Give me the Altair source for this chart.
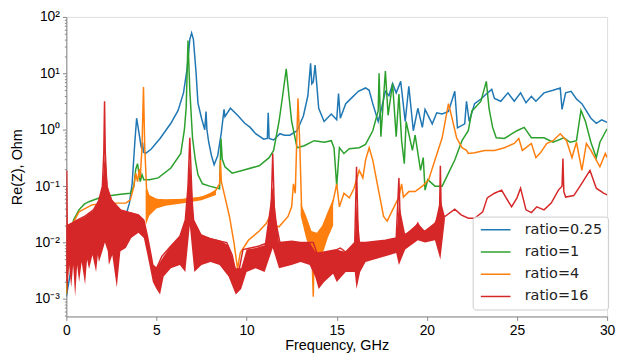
import altair as alt
import pandas as pd

# ---------------- data ----------------
SERIES = ["ratio=0.25", "ratio=1", "ratio=4", "ratio=16"]
COLORS = ["#1f77b4", "#2ca02c", "#ff7f0e", "#d62728"]

blue_f = [0.0, 0.3, 0.8, 1.5, 2.2, 2.8, 3.3, 3.5, 3.65, 3.8, 3.9, 4.05, 4.15, 4.2, 4.23, 4.28, 4.4, 4.7, 5.2, 5.8, 6.2, 6.5, 6.7, 6.85, 6.95, 7.05, 7.2, 7.3, 7.5, 7.68, 7.75, 7.8, 7.9, 8.05, 8.2, 8.4, 8.6, 8.75, 8.8, 9.1, 9.5, 9.9, 10.2, 10.5, 10.95, 11.15, 11.2, 11.25, 11.5, 11.85, 12.1, 12.4, 12.8, 13.15, 13.4, 13.55, 13.62, 13.7, 13.8, 13.9, 14.0, 14.3, 14.7, 15.0, 15.1, 15.2, 15.5, 15.8, 16.2, 16.6, 16.8, 17.0, 17.3, 17.5, 17.7, 17.9, 18.1, 18.3, 18.55, 18.8, 19.0, 19.25, 19.5, 19.75, 19.9, 20.3, 20.55, 20.85, 21.2, 21.55, 21.7, 22.1, 22.2, 22.35, 22.65, 23.0, 23.3, 23.6, 23.75, 24.1, 24.5, 24.85, 25.2, 25.5, 25.8, 26.05, 26.5, 27.0, 27.4, 27.5, 27.7, 28.0, 28.3, 28.6, 28.85, 29.1, 29.4, 29.7, 30.0]
blue_v = [0.0011, 0.004, 0.008, 0.012, 0.016, 0.02, 0.03, 0.05, 0.11, 0.6, 1.6, 0.8, 0.5, 0.45, 0.6, 0.4, 0.38, 0.45, 0.7, 1.3, 2.2, 4.5, 12, 40, 52, 40, 10, 3.0, 1.6, 1.0, 2.1, 1.0, 0.6, 0.35, 0.24, 0.35, 0.9, 2.3, 1.7, 2.4, 1.8, 1.3, 1.1, 0.85, 0.68, 0.7, 2.0, 0.7, 0.66, 0.85, 0.8, 0.8, 0.96, 1.75, 4.0, 15, 6.5, 7, 14, 6, 2.4, 1.4, 1.9, 1.5, 4.4, 1.6, 2.9, 3.6, 4.8, 5.5, 5.0, 2.9, 1.4, 2.5, 4.8, 4.0, 6.6, 4.5, 7.2, 1.4, 5.9, 0.96, 2.4, 1.1, 2.3, 1.27, 2.0, 1.9, 2.1, 4.8, 1.08, 1.27, 3.2, 1.4, 2.9, 3.5, 4.3, 5.2, 3.6, 3.2, 4.5, 3.2, 4.5, 3.0, 3.9, 3.2, 4.5, 5.0, 5.5, 2.3, 4.5, 4.8, 3.5, 2.9, 2.15, 1.6, 1.3, 1.5, 1.35]

green_f = [0.0, 0.15, 0.4, 0.7, 1.0, 1.25, 2.0, 3.0, 3.55, 3.75, 3.85, 3.95, 4.05, 4.1, 4.2, 4.3, 4.6, 5.1, 5.8, 6.35, 6.55, 6.65, 6.75, 6.85, 7.0, 7.15, 7.3, 7.55, 7.95, 8.5, 8.58, 8.65, 8.8, 9.2, 9.75, 10.7, 11.25, 11.5, 11.8, 12.0, 12.2, 12.35, 12.5, 12.8, 13.2, 13.75, 14.3, 14.7, 14.85, 15.0, 15.15, 15.4, 15.7, 16.25, 16.6, 17.0, 17.3, 17.35, 17.45, 17.7, 17.85, 18.1, 18.3, 18.45, 18.6, 18.75, 18.85, 19.2, 19.35, 19.65, 19.8, 19.9, 20.05, 20.45, 20.85, 21.2, 21.55, 21.95, 22.3, 22.5, 22.65, 23.0, 23.3, 23.45, 23.65, 23.85, 24.3, 25.0, 25.4, 25.8, 26.5, 27.0, 27.6, 27.95, 28.3, 28.55, 28.8, 29.1, 29.4, 29.6, 30.0]
green_v = [0.0012, 0.01, 0.025, 0.038, 0.048, 0.053, 0.065, 0.072, 0.075, 0.1, 0.2, 0.25, 0.15, 0.12, 0.16, 0.13, 0.13, 0.14, 0.21, 0.38, 1.0, 2.5, 38, 5, 0.72, 0.3, 0.16, 0.11, 0.1, 0.09, 0.7, 0.3, 0.22, 0.17, 0.19, 0.23, 0.32, 0.43, 1.4, 4, 12, 4, 1.4, 0.48, 0.52, 0.64, 0.6, 0.64, 0.48, 0.1, 0.48, 0.38, 0.46, 0.48, 0.55, 0.96, 2.15, 10, 0.75, 11, 1.8, 6.6, 0.75, 4.3, 0.64, 0.25, 1.4, 0.43, 0.8, 0.19, 0.32, 0.085, 0.13, 0.1, 0.1, 0.17, 0.29, 0.64, 0.96, 2.15, 2.4, 3.2, 7.2, 2.4, 1.1, 0.72, 0.7, 0.96, 1.1, 0.72, 0.72, 0.6, 0.72, 0.6, 0.64, 2.2, 1.4, 0.6, 0.32, 0.6, 1.04]

orange_f = [0.0, 0.1, 0.3, 0.7, 1.45, 2.5, 3.3, 3.55, 3.75, 3.85, 3.95, 4.05, 4.1, 4.2, 4.28, 4.35, 4.45, 4.6, 5.0, 5.5, 6.5, 7.0, 7.55, 8.0, 8.3, 8.5, 8.55, 8.6, 8.75, 9.05, 9.3, 9.5, 9.65, 10.1, 10.7, 11.1, 11.3, 11.35, 11.8, 12.3, 12.5, 12.6, 12.7, 12.85, 12.95, 13.05, 13.3, 13.6, 13.7, 13.75, 14.0, 14.3, 14.7, 15.0, 15.15, 15.4, 15.7, 15.95, 16.25, 16.45, 16.6, 16.8, 17.0, 17.35, 17.6, 17.8, 18.1, 18.45, 18.6, 18.7, 19.0, 19.35, 19.75, 20.1, 20.45, 20.85, 21.2, 21.4, 21.65, 21.95, 22.2, 22.3, 22.65, 23.2, 23.75, 24.3, 24.85, 25.1, 25.3, 25.8, 26.05, 26.3, 26.65, 27.0, 27.4, 27.75, 28.05, 28.3, 28.6, 28.85, 29.1, 29.4, 29.6, 29.9, 30.0]
orange_v = [0.0012, 0.005, 0.02, 0.035, 0.047, 0.05, 0.05, 0.057, 0.1, 0.17, 0.12, 0.2, 0.14, 0.5, 5.7, 0.5, 0.09, 0.065, 0.058, 0.056, 0.058, 0.06, 0.064, 0.072, 0.085, 0.11, 0.29, 0.12, 0.075, 0.029, 0.01, 0.0034, 0.0066, 0.011, 0.016, 0.022, 0.03, 0.022, 0.019, 0.029, 0.043, 0.11, 0.075, 3.6, 0.57, 0.043, 0.022, 0.011, 0.0011, 0.01, 0.012, 0.022, 0.038, 0.11, 0.043, 0.075, 0.062, 0.09, 0.19, 0.14, 0.29, 0.48, 0.29, 0.075, 0.029, 0.024, 0.038, 0.064, 0.11, 0.064, 0.08, 0.08, 0.1, 0.13, 0.29, 0.72, 2.9, 1.6, 0.72, 0.48, 0.43, 0.38, 0.39, 0.43, 0.43, 0.48, 0.57, 0.7, 0.43, 0.57, 0.32, 0.39, 0.57, 0.64, 0.85, 0.64, 0.32, 0.6, 0.19, 0.57, 0.43, 0.29, 0.22, 0.38, 0.32]

# orange oscillation bands (lower / upper edge)
oband_f = [4.4, 4.6, 5.0, 5.5, 6.5, 7.5, 8.3, None, 13.0, 13.3, 13.6, 13.9, 14.2, 14.5, 14.8]
oband_lo = [0.02, 0.03, 0.04, 0.045, 0.05, 0.056, 0.07, None, 0.03, 0.012, 0.006, 0.004, 0.006, 0.012, 0.02]
oband_hi = [0.09, 0.07, 0.06, 0.058, 0.06, 0.065, 0.085, None, 0.05, 0.03, 0.016, 0.015, 0.02, 0.035, 0.06]

red_f = [0.0, 0.02, 0.05, 0.3, 0.7, 1.0, 1.5, 1.8, 2.0, 2.08, 2.12, 2.16, 2.25, 2.5, 3.0, 3.5, 4.0, 4.3, 4.5, 4.7, 4.8, 5.0, 5.3, 5.8, 6.3, 6.6, 6.75, 6.85, 6.95, 7.0, 7.3, 7.8, 8.3, 8.9, 9.2, 9.4, 9.6, 9.8, 10.2, 10.7, 11.2, 11.35, 11.45, 11.55, 11.85, 12.5, 13.0, 13.7, 13.9, 14.3, 15.0, 15.2, 15.5, 16.0, 16.1, 16.2, 16.6, 17.7, 18.3, 18.45, 18.55, 18.8, 19.3, 19.5, 19.7, 19.9, 20.45, 20.7, 20.75, 20.8, 21.0, 21.55, 21.9, 22.3, 22.65, 23.1, 23.35, 23.75, 24.15, 24.4, 24.7, 25.0, 25.2, 25.5, 25.8, 26.1, 26.5, 26.9, 27.3, 27.5, 27.55, 27.6, 27.7, 28.15, 28.5, 29.05, 29.4, 29.8, 30.0]
red_v = [0.002, 0.19, 0.02, 0.022, 0.026, 0.029, 0.038, 0.055, 0.1, 0.4, 3.2, 0.4, 0.1, 0.057, 0.038, 0.034, 0.031, 0.025, 0.013, 0.006, 0.004, 0.0035, 0.0057, 0.0087, 0.013, 0.025, 0.1, 0.72, 0.1, 0.025, 0.014, 0.012, 0.011, 0.01, 0.006, 0.003, 0.0035, 0.0075, 0.008, 0.0087, 0.01, 0.03, 0.38, 0.03, 0.01, 0.0105, 0.01, 0.01, 0.0065, 0.0068, 0.0075, 0.008, 0.0068, 0.01, 0.22, 0.01, 0.01, 0.011, 0.012, 0.14, 0.012, 0.014, 0.017, 0.022, 0.016, 0.016, 0.022, 0.03, 0.23, 0.03, 0.029, 0.039, 0.031, 0.027, 0.027, 0.035, 0.062, 0.075, 0.085, 0.062, 0.043, 0.062, 0.092, 0.038, 0.034, 0.043, 0.038, 0.05, 0.085, 0.1, 0.31, 0.08, 0.064, 0.068, 0.1, 0.19, 0.092, 0.075, 0.07]

# red oscillation band (lower edge with its downward spikes, upper edge)
rband_f = [0.0, 0.05, 0.15, 0.27, 0.38, 0.49, 0.6, 0.71, 0.85, 1.04, 1.15, 1.26, 1.45, 1.65, 1.75, 1.81, 2.0, 2.14, 2.3, 2.36, 2.55, 2.8, 3.0, 3.3, 3.6, 4.0, 4.3, 4.5, 4.8, 5.0, 5.2, 5.4, 5.8, 6.3, 6.6, 6.85, 7.1, 7.5, 8.0, 8.5, 9.0, 9.4, 9.7, 10.0, 10.5, 11.0, 11.45, 11.8, 12.5, 13.0, 13.5, 13.8, 14.0, 14.3, 14.8, 15.0, 15.5, 16.0, 16.1, 16.3, 16.6, 17.7, 18.3, 18.45, 18.8, 19.5, 19.9, 20.45, 20.75, 21.0]
rband_lo = [0.003, 0.0012, 0.004, 0.0016, 0.004, 0.0011, 0.004, 0.002, 0.0045, 0.0018, 0.005, 0.0034, 0.006, 0.003, 0.006, 0.0045, 0.007, 0.01, 0.007, 0.004, 0.006, 0.0016, 0.007, 0.008, 0.012, 0.015, 0.012, 0.006, 0.002, 0.0015, 0.0012, 0.0025, 0.0035, 0.004, 0.003, 0.02, 0.003, 0.004, 0.0045, 0.004, 0.0025, 0.0012, 0.0015, 0.003, 0.0035, 0.003, 0.008, 0.0035, 0.004, 0.0045, 0.004, 0.0025, 0.0015, 0.002, 0.0028, 0.002, 0.003, 0.003, 0.0015, 0.003, 0.0045, 0.0057, 0.0065, 0.004, 0.0075, 0.011, 0.01, 0.011, 0.005, 0.025]
rband_hi = [0.02, 0.02, 0.021, 0.022, 0.023, 0.024, 0.025, 0.026, 0.027, 0.029, 0.031, 0.033, 0.036, 0.045, 0.055, 0.06, 0.1, 0.4, 0.1, 0.08, 0.057, 0.045, 0.038, 0.036, 0.034, 0.031, 0.025, 0.013, 0.004, 0.0035, 0.0045, 0.0057, 0.0087, 0.013, 0.025, 0.3, 0.025, 0.014, 0.012, 0.011, 0.009, 0.0035, 0.0035, 0.0075, 0.008, 0.009, 0.1, 0.01, 0.0105, 0.01, 0.01, 0.007, 0.0065, 0.0068, 0.0074, 0.0075, 0.0068, 0.01, 0.05, 0.01, 0.01, 0.011, 0.012, 0.05, 0.014, 0.022, 0.016, 0.022, 0.06, 0.029]

Y_TICKS = [0.001, 0.01, 0.1, 1, 10, 100]
Y_MINOR = [round(m * d, 6) for d in [0.0001, 0.001, 0.01, 0.1, 1, 10] for m in range(2, 10)
           if 0.00049 <= m * d <= 100]
X_TICKS = [0, 5, 10, 15, 20, 25, 30]

# ---------------- tables ----------------
def line_df(f, v, s):
    return pd.DataFrame({"f": f, "v": v, "s": s})

def band_df(f, lo, hi, s):
    rows, seg = [], 0
    for a, b, c in zip(f, lo, hi):
        if a is None:
            seg += 1
            continue
        rows.append({"f": a, "v": b, "hi": c, "s": s, "seg": seg})
    return pd.DataFrame(rows)

FONT = "DejaVu Sans"
xs = alt.Scale(domain=[0, 30], nice=False, zero=False)
ys = alt.Scale(type="log", domain=[0.00049, 100], nice=False)
cs = alt.Scale(domain=SERIES, range=COLORS)

label_expr = ("datum.value==100?'10²':datum.value==10?'10¹':datum.value==1?'10⁰':"
              "datum.value==0.1?'10⁻¹':datum.value==0.01?'10⁻²':datum.value==0.001?'10⁻³':''")
major_test = ("datum.value==100||datum.value==10||datum.value==1||datum.value==0.1||"
              "datum.value==0.01||datum.value==0.001")

x_axis = alt.Axis(values=X_TICKS, title="Frequency, GHz", grid=False, labelFontSize=14,
                  titleFontSize=14.6, titleFontWeight="normal", tickSize=4, labelPadding=3,
                  titlePadding=0, labelFlush=False)
y_axis = alt.Axis(values=Y_TICKS + Y_MINOR, title="Re(Z), Ohm", grid=False, labelExpr=label_expr,
                  labelOverlap=False, labelFontSize=14, titleFontSize=14.6, titleFontWeight="normal",
                  labelPadding=3, titlePadding=10, labelFlush=False,
                  tickSize={"condition": {"test": major_test, "value": 4}, "value": 2})

legend = alt.Legend(title=None, orient="none", legendX=411, legendY=202,
                    symbolType="M-1,0H5", symbolSize=100, symbolStrokeWidth=1.5,
                    labelFontSize=14.6, labelFont=FONT, labelColor="#222222",
                    fillColor="rgba(255,255,255,0.8)", strokeColor="#cccccc", cornerRadius=3,
                    padding=6, rowPadding=7.5, labelOffset=32, values=SERIES)

X = alt.X("f:Q", scale=xs, axis=x_axis)
Y = alt.Y("v:Q", scale=ys, axis=y_axis)
C = alt.Color("s:N", scale=cs, legend=legend)

def line_layer(f, v, s):
    return alt.Chart(line_df(f, v, s)).mark_line(strokeWidth=1.5, clip=True).encode(
        x=X, y=Y, color=C)

def band_layer(f, lo, hi, s):
    return alt.Chart(band_df(f, lo, hi, s)).mark_area(opacity=1, clip=True, interpolate="linear").encode(
        x=X, y=Y, y2="hi:Q", color=C, detail="seg:N")

chart = alt.layer(
    line_layer(blue_f, blue_v, SERIES[0]),
    line_layer(green_f, green_v, SERIES[1]),
    band_layer(oband_f, oband_lo, oband_hi, SERIES[2]),
    line_layer(orange_f, orange_v, SERIES[2]),
    band_layer(rband_f, rband_lo, rband_hi, SERIES[3]),
    line_layer(red_f, red_v, SERIES[3]),
).properties(
    width=547, height=303,
    autosize=alt.AutoSizeParams(type="none"),
    padding={"left": 59, "top": 7, "right": 9, "bottom": 38},
).configure_view(stroke="#999999", strokeWidth=1.2).configure_axis(
    domainColor="#999999", tickColor="#555555", labelColor="#222222", titleColor="#222222",
    labelFont=FONT, titleFont=FONT, titleFontWeight="normal", domainWidth=1.2,
).configure(background="white")

chart.save("out.html", embed_options={"renderer": "svg", "actions": False})
